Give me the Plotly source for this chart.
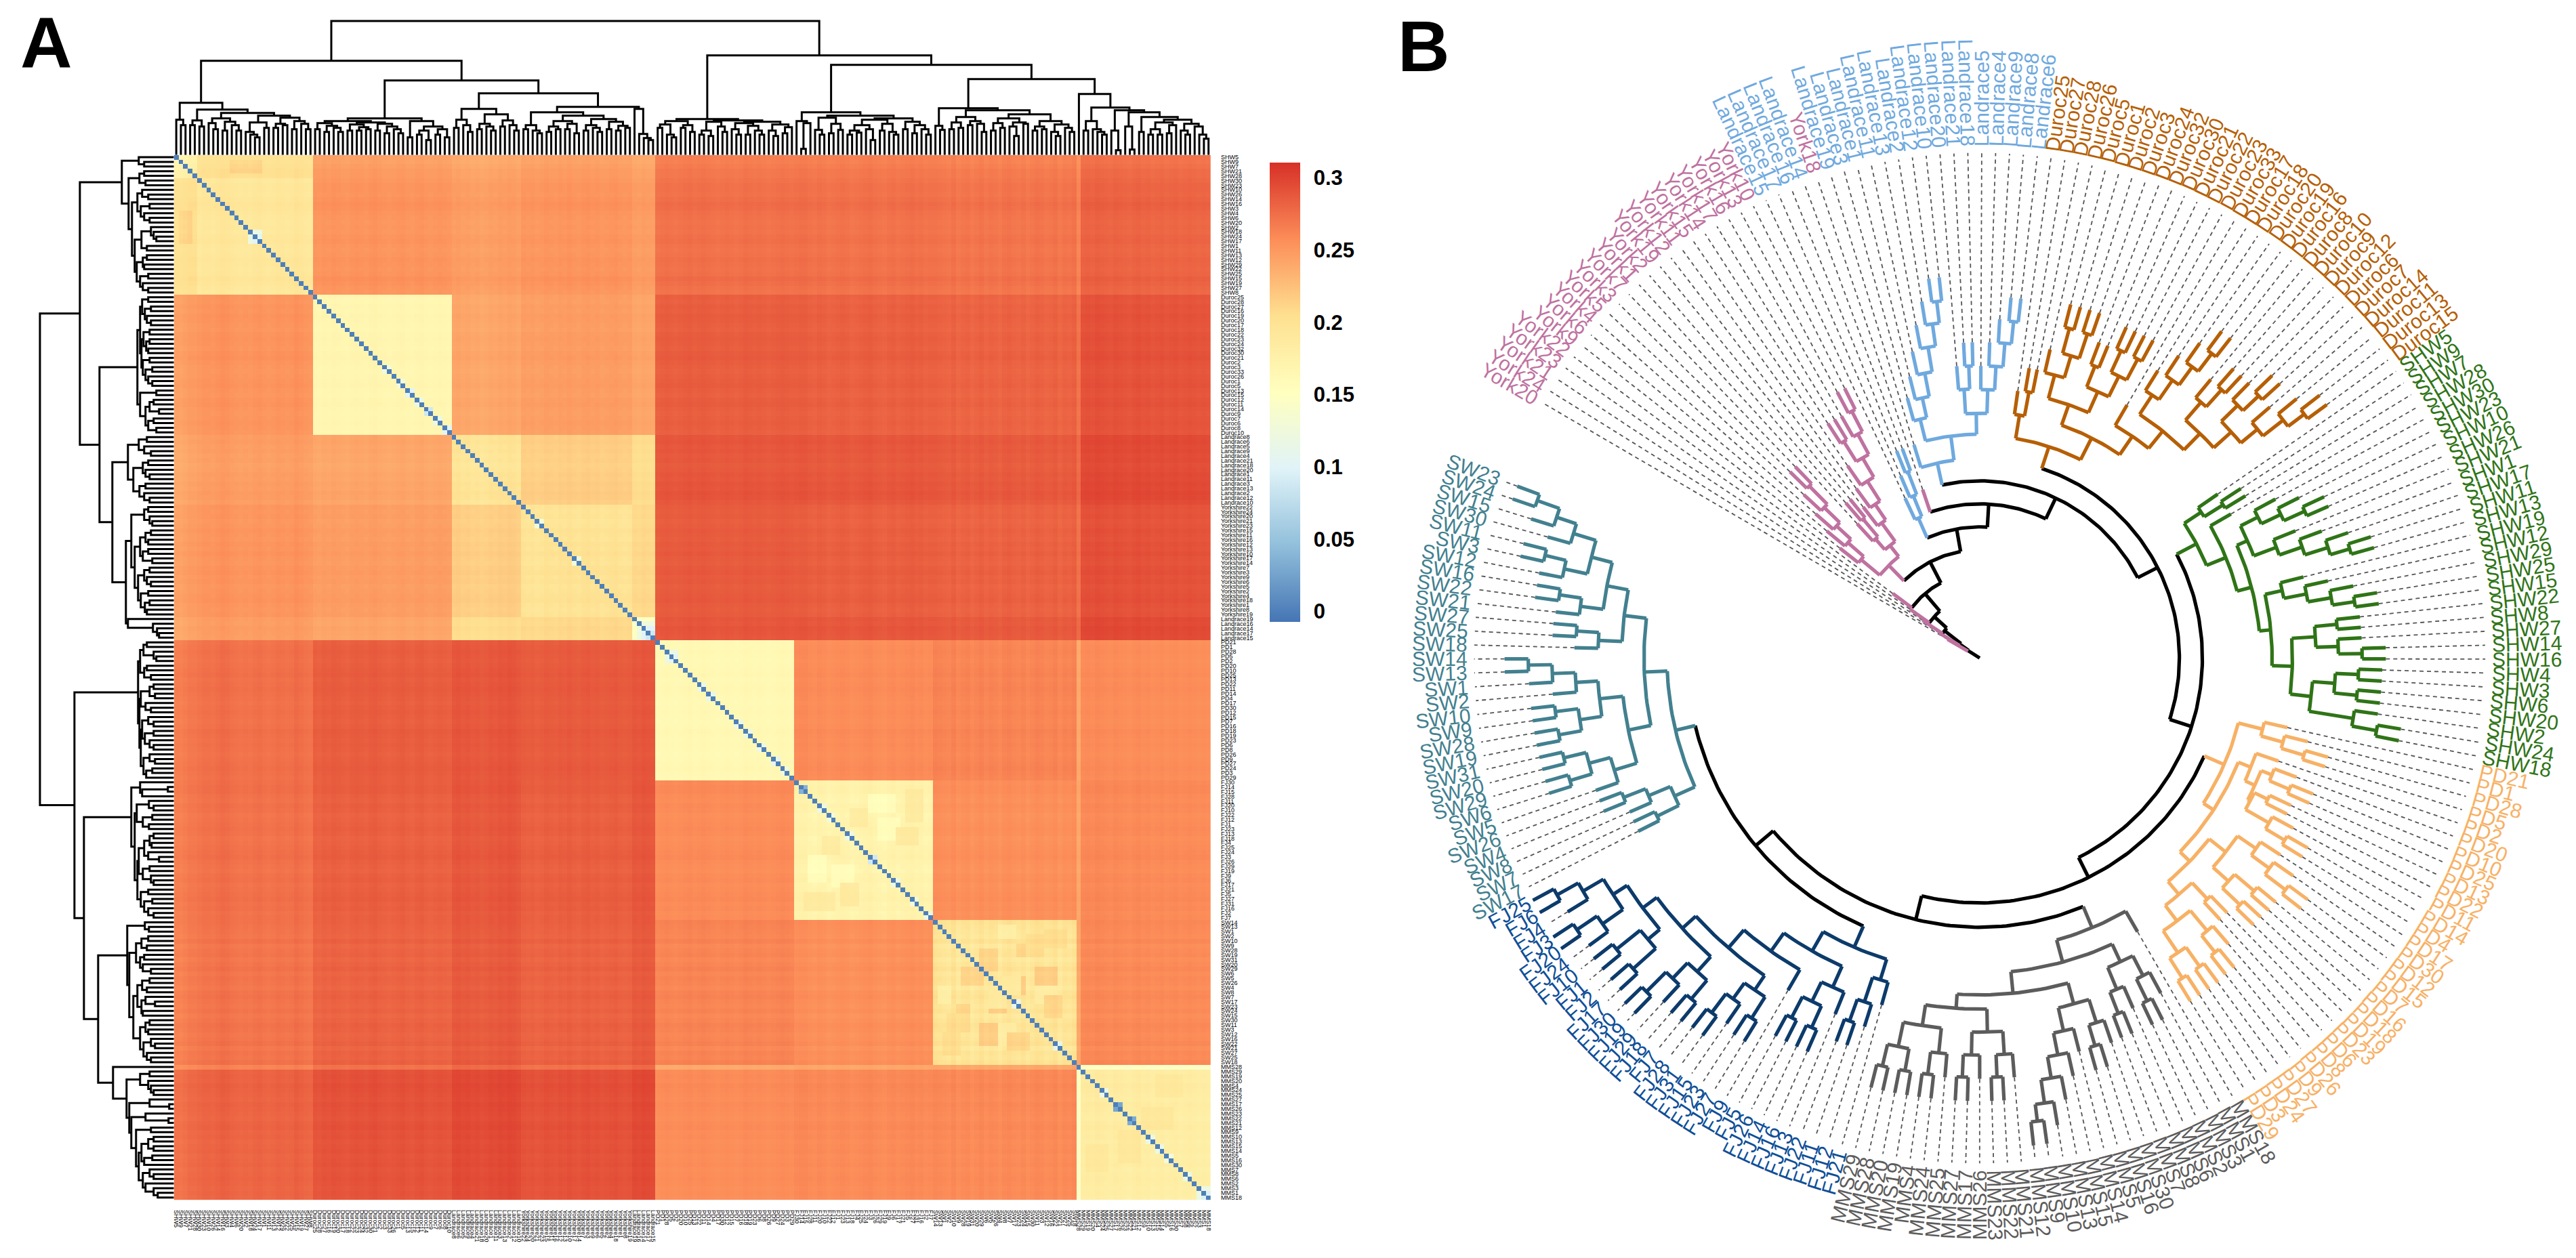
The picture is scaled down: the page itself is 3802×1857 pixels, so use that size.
import re
import numpy as np
import plotly.graph_objects as go

W, H = 3802, 1857

# ---------- Panel A: sample labels (row and column order) ----------
A_SHW = [f"SHW{i}" for i in [5,9,7,21,28,30,23,10,26,14,16,3,4,6,20,2,18,24,17,1,11,13,12,29,22,25,15,19,27,8]]
A_DUROC = [f"Duroc{i}" for i in [25,28,27,16,19,20,17,18,22,23,24,32,30,21,2,3,33,26,1,5,13,15,12,11,14,9,7,6,8,10]]
A_LANDRACE_A = [f"Landrace{i}" for i in [8,6,5,9,4,21,18,20,1,11,3,13,2,12,10]]
A_YORKSHIRE = [f"Yorkshire{i}" for i in [22,24,20,21,23,15,11,16,12,13,10,17,14,7,3,9,6,5,2,4,18,1,8,19]]
A_LANDRACE_B = [f"Landrace{i}" for i in [19,16,14,17,15]]
A_PD = [f"PD{i}" for i in [21,1,28,5,2,20,10,25,13,22,11,14,4,17,30,12,15,7,16,18,19,23,6,8,26,9,27,24,3,29]]
A_FJ = [f"FJ{i}" for i in [30,14,15,28,11,20,10,22,12,1,23,13,18,4,25,24,3,26,29,19,9,6,17,21,5,27,31,16,2,7]]
A_SW = [f"SW{i}" for i in [14,13,1,2,10,9,28,19,31,20,29,6,5,26,4,8,7,17,23,24,15,30,11,3,12,16,22,21,27,25,18]]
A_MMS = [f"MMS{i}" for i in [28,29,19,20,4,24,25,27,17,26,23,22,21,12,9,10,13,15,14,5,16,30,7,8,6,2,3,1,18]]
A_GROUPS = [A_SHW, A_DUROC, A_LANDRACE_A, A_YORKSHIRE, A_LANDRACE_B, A_PD, A_FJ, A_SW, A_MMS]

# Mean distance between sample groups
GROUP_DISTANCE = [
    [.188,.250,.245,.250,.245,.272,.272,.270,.278],
    [.250,.165,.240,.245,.240,.283,.282,.280,.288],
    [.245,.240,.195,.215,.205,.288,.288,.286,.294],
    [.250,.245,.215,.195,.208,.285,.283,.281,.289],
    [.245,.240,.205,.208,.145,.288,.288,.286,.294],
    [.272,.283,.288,.285,.288,.163,.258,.262,.256],
    [.272,.282,.288,.283,.288,.258,.172,.256,.258],
    [.270,.280,.286,.281,.286,.262,.256,.195,.258],
    [.278,.288,.294,.289,.294,.256,.258,.258,.177],
]
# Row/column stripes of each sample, in thousandths
SHW_SHADE = [-6,-7,-5,-2,-2,0,2,2,1,3,5,4,2,1,0,1,0,2,3,1,0,1,3,2,1,2,5,3,1,0]
DUROC_SHADE = [1,0,2,1,3,2,1,0,2,3,2,1,3,4,2,1,0,1,2,3,1,0,2,3,1,0,1,2,1,0]
LANDRACE_A_SHADE = [1,2,0,1,-1,0,-2,-1,1,0,2,1,3,2,0]
YORKSHIRE_SHADE = [1,0,1,-1,0,2,1,0,2,1,3,1,0,2,3,1,2,0,1,2,3,1,0,1]
LANDRACE_B_SHADE = [1,0,2,1,0]
PD_SHADE = [-1,0,1,0,-1,0,1,2,0,1,2,1,0,-1,0,1,0,-1,0,2,1,0,1,0,-1,0,1,2,1,0]
FJ_SHADE = [1,2,2,0,-1,1,0,-2,-1,0,1,0,-2,-1,0,1,2,0,-1,-2,0,1,-1,0,1,2,0,1,-1,0]
SW_SHADE = [2,1,0,-1,2,-2,0,1,-2,0,2,-1,1,0,-2,1,2,0,-1,1,-2,0,2,1,-1,0,2,-2,1,0,2]
MMS_SHADE = [-17,2,3,2,4,3,2,1,3,2,1,0,2,3,1,2,0,1,2,0,1,2,0,1,2,1,0,1,0]
A_SHADES = [SHW_SHADE, DUROC_SHADE, LANDRACE_A_SHADE, YORKSHIRE_SHADE, LANDRACE_B_SHADE, PD_SHADE, FJ_SHADE, SW_SHADE, MMS_SHADE]
GROUP_TEXTURE = [1.5, 1, 2, 2, 2, 1.5, 2, 3, 2]

# Lighter or darker patches inside a group's block: group, first row, last row, first column, last column, value
BLOCK_PATCHES = [
    (0,0,4,5,29,.205),(0,1,3,12,18,.215),
    (6,3,6,16,21,.158),(6,16,19,3,6,.155),(6,18,22,8,12,.158),(6,10,13,22,26,.188),(6,24,27,2,8,.186),(6,6,9,12,15,.186),
    (7,5,7,18,21,.212),(7,10,13,6,10,.212),(7,14,17,22,26,.183),(7,20,23,3,7,.207),(7,22,26,10,13,.216),
    (7,24,27,16,20,.212),(7,1,3,14,17,.18),(7,16,19,12,15,.216),(7,12,15,15,18,.188),(7,2,5,24,28,.207),
    (8,9,13,14,20,.19),(8,17,22,2,6,.188),
]

# Dendrogram of panel A: "(height child child)", t = leaf; heights read in pixels
A_SHW_TREE = ("(77 (52 t (44 t t)) (67 (51 (44 t t) (42 t t)) (62 (54 (47 t (38 t t)) (49 (36 t t) (44 t (36 t t)))) "
              "(58 (48 (34 t (30 t (26 t t))) (40 t t)) (55 (46 (40 t t) (44 t t)) (50 (38 t t) (46 t (38 t t))))))))")
A_DUROC_TREE = ("(54 (50 (47 (38 t t) (43 (34 t t) (40 t (34 t t)))) (48 (45 (36 t t) (41 (36 t t) (38 t t))) "
                "(46 (36 t t) (42 (32 t t) (38 t (32 t t)))))) (50 (26 t t) (42 (36 (30 t t) (22 t t)) (38 (30 t t) (26 t t)))))")
A_LANDRACE_TREE = "(68 (52 (40 t t) (44 t (34 t t))) (60 (46 (38 t t) (42 t (36 t t))) (51 (42 t t) (44 t (36 t t)))))"
A_YORK_TREE = ("(71 (63 (44 (38 t t) (36 t (32 t t))) (58 (50 (42 (34 t t) (38 t t)) (46 (38 t t) (32 t t))) "
               "(53 (44 (36 t t) (40 t (34 t t))) (49 (38 t t) (43 (36 t t) (40 t t)))))) (68 t (31 t (25 t (22 t t)))))")
A_PD_TREE = ("(53 (50 (45 (40 t t) (30 t (26 t t))) (44 (40 t t) (34 t t))) (51 (49 (36 (30 t t) (28 t t)) (42 t (34 t t))) "
             "(49 (47 (38 t (30 t t)) (43 (30 t t) (36 t (30 t t)))) (45 (36 t (28 t t)) (41 (32 t t) t)))))")
A_FJ_TREE = ("(63 (50 t (47 (9 t t) t)) (58 (55 (37 t (30 t t)) (46 (32 t t) (37 t t))) (54 (52 (44 (36 (30 t t) (33 t t)) (38 t (22 t t))) "
             "(46 (36 t t) (34 t (30 t t)))) (49 (38 t t) (44 (32 t t) (38 t (30 t t)))))))")
A_SW_TREE = ("(69 (43 t (37 t t)) (66 (56 (48 (38 t t) (40 t t)) (50 (44 t t) (46 t (34 t t)))) (60 (54 (47 (36 t t) (40 t t)) "
             "(48 (42 t (28 t t)) (46 t t))) (50 (42 (36 t t) (38 t t)) (45 (34 t (28 t t)) (40 t (34 t t)))))))")
A_MMS_TREE = ("(90 t (70 (50 (36 t t) (38 t (34 t (30 t t)))) (66 (36 t (7 t t)) (63 (42 t (8 t t)) (56 (34 t t) (52 (48 (38 (30 t t) (30 t t)) "
              "(44 (32 t t) t)) (46 (36 t (30 t t)) (42 t (30 t (24 t t)))))))))) ")
A_TREE = (f"(198 (139 {A_SHW_TREE} (110 {A_DUROC_TREE} (91 {A_LANDRACE_TREE} {A_YORK_TREE}))) "
          f"(147 {A_PD_TREE} (133 {A_FJ_TREE} (112 {A_SW_TREE} {A_MMS_TREE}))))")

COLORBAR_TICKS = [0, .05, .1, .15, .2, .25, .3]
COLORBAR_TEXT = ["0", "0.05", "0.1", "0.15", "0.2", "0.25", "0.3"]
HEAT_COLORS = ["#4575B4", "#91BFDB", "#E0F3F8", "#FFFFBF", "#FEE090", "#FC8D59", "#D73027"]

# ---------- Panel B: leaf names in clockwise order ----------
B_NAMES = {
    "York": [f"York{i}" for i in [20,24,21,23,22,9,6,4,5,3,7,1,2,19,12,11,15,14,17,16,13,10,18]],
    "Landrace": [f"Landrace{i}" for i in [15,17,16,14,19,3,1,11,13,2,12,10,20,21,18,5,4,9,8,6]],
    "Duroc": [f"Duroc{i}" for i in [25,27,28,26,5,1,2,3,24,32,30,21,22,23,33,17,18,20,19,16,8,10,9,12,6,7,14,11,13,15]],
    "SHW": [f"SHW{i}" for i in [5,9,7,28,30,23,10,26,21,1,17,11,13,19,12,29,25,15,22,8,27,14,16,4,3,6,20,2,24,18]],
    "PD": [f"PD{i}" for i in [21,1,28,5,2,20,10,25,13,22,11,14,4,17,30,12,15,7,16,18,19,23,6,8,26,9,27,24,3,29]],
    "MMS": [f"MMS{i}" for i in [18,1,3,2,6,8,7,30,16,5,14,15,13,10,9,12,21,22,23,26,17,27,25,24,4,19,20,28,29]],
    "FJ": [f"FJ{i}" for i in [21,12,11,22,13,16,14,26,5,9,27,23,15,31,28,7,18,29,19,30,17,2,1,10,24,20,3,4,6,25]],
    "SW": [f"SW{i}" for i in [17,7,8,4,26,5,6,29,20,31,19,28,9,10,2,1,13,14,18,25,27,21,22,16,12,3,11,30,15,24,23]],
}
TREE_COLORS = {"York":"#BF72A0","Landrace":"#6FA9DE","Duroc":"#B65F05","SHW":"#2F7417","PD":"#F7B165","MMS":"#5C5C5C","FJ":"#0C3B6B","SW":"#42808F"}
TEXT_COLORS = {**TREE_COLORS, "FJ":"#0E4F98"}

# Circular tree: "(radius child child)", t = leaf; radii read in pixels from the centre
B_YORK = ("(192 (228 t (259 t (288 t (320 t (358 t t))))) (213 (234 t (268 t t)) (247 t (275 t (310 t (343 (378 t t) (377 t (411 t t))))))))")
B_LAND_A = "(226 t (259 t (295 t t)))"
B_LAND_B = ("(295 t (331 (364 t (394 t (429 t (466 t (499 t (531 t t)))))) (362 (398 t (432 t t)) (397 t (432 t (467 t (500 t t)))))))")
B_DUROC = ("(329 (364 t (400 t t)) (365 (397 (433 t (467 (505 t t) (505 t t))) (431 (464 t t) (465 (500 t t) (500 t t)))) "
           "(398 t (431 (465 t (500 t (533 t (566 t t)))) (465 (500 t (534 t t)) (500 (534 t (566 t t)) (532 t (570 t (600 t t)))))))))")
B_SHW = ("(362 (392 t (425 t t)) (393 t (415 (432 (461 t (493 t (527 t t))) (468 t (504 t (540 t (570 t t))))) "
         "(432 (458 t (492 t (527 t (560 t t)))) (462 (497 (530 t t) (530 t (565 t t))) (493 (526 (560 t t) (560 t t)) (559 t (596 t t))))))))")
B_PD = ("(394 (431 t (465 t (500 t t))) (412 (432 t (448 (465 t (497 t t)) (452 (474 t t) (492 t (525 t t))))) "
        "(432 (463 (496 t (529 t (567 t t))) (494 (532 t t) (530 t t))) (457 (490 t t) (486 (525 t (557 t t)) (525 (560 t t) (560 t t)))))))")
B_MMS = ("(432 t (466 (495 (528 t (564 t t)) (530 t (564 t t))) (498 (530 (566 t (598 t t)) (565 t (598 t (630 t (665 t (690 t t)))))) "
         "(519 (553 (587 t (620 t t)) (587 t (620 t t))) (550 (587 t (620 t t)) (587 (620 t t) (620 t t)))))))")
B_FJ = ("(466 (498 t (536 t (570 t t))) (499 (533 t (565 (600 t t) (600 t t))) (532 t (567 (593 (630 t t) (622 t (657 t t))) "
        "(594 (624 (660 t t) (656 t (697 t t))) (620 (643 (688 t t) (688 t t)) (645 (682 t (718 t t)) (680 t (716 t t)))))))))")
B_SW = ("(462 (495 (531 t t) (530 t (565 t t))) (496 (530 (565 t (598 (632 t t) (632 t t))) (565 (598 (632 t t) (632 t t)) (598 t (632 t (667 t t))))) "
        "(529 (564 t (597 t t)) (561 (595 t (628 t t)) (593 (628 t (660 t t)) (628 t (659 t (694 t t))))))))")
B_TREE = (f"(20 <York>t (35 <York>t (66 <York>t (91 <York>t (125 <York>t (160 <York>{B_YORK} (194 <Landrace>{B_LAND_A} "
          f"(228 <York>t (262 <Landrace>{B_LAND_B} (295 <Duroc>{B_DUROC} (329 <SHW>{B_SHW} (362 <PD>{B_PD} "
          f"(398 <MMS>{B_MMS} (432 <FJ>{B_FJ} <SW>{B_SW}" + ")" * 14)
B_FIRST_ANGLE, B_LAST_ANGLE = -59.7, 290.4
B_TIP_LENGTH, B_DASH_END, B_LABEL_R, B_LABEL_SIZE = 35, 747, 757, 30


def parse_tree(src):
    tokens = re.findall(r"<\w+>|\(|\)|t|[\d.]+", src)
    pos = 0

    def node(group):
        nonlocal pos
        if tokens[pos].startswith("<"):
            group = tokens[pos][1:-1]
            pos += 1
        tok = tokens[pos]
        pos += 1
        if tok == "t":
            return {"leaf": True, "group": group}
        value = float(tokens[pos])
        pos += 1
        kids = []
        while tokens[pos] != ")":
            kids.append(node(group))
        pos += 1
        return {"leaf": False, "group": group, "r": value, "kids": kids}
    return node(None)


# ---------- Heatmap values ----------
sizes = [len(g) for g in A_GROUPS]
starts = np.cumsum([0] + sizes)
group_of = np.repeat(np.arange(len(sizes)), sizes)
shade = np.concatenate(A_SHADES) / 1000
base = np.array(GROUP_DISTANCE)[np.ix_(group_of, group_of)]
tex = np.array(GROUP_TEXTURE)[group_of]
same = group_of[:, None] == group_of[None, :]
z = base + (shade[:, None] + shade[None, :]) * np.where(same, tex[:, None], 1)
for g, r0, r1, c0, c1, v in BLOCK_PATCHES:
    s = starts[g]
    z[s + r0:s + r1 + 1, s + c0:s + c1 + 1] = v + (shade[s + r0:s + r1 + 1, None] + shade[None, s + c0:s + c1 + 1])
    z[s + c0:s + c1 + 1, s + r0:s + r1 + 1] = z[s + r0:s + r1 + 1, s + c0:s + c1 + 1].T

a_root = parse_tree(A_TREE)
leaf_count = 0


def layout_a(n):
    global leaf_count
    if n["leaf"]:
        n["pos"], n["h"] = leaf_count, 0.0
        n["span"] = [leaf_count]
        leaf_count += 1
        return
    for k in n["kids"]:
        layout_a(k)
    n["pos"] = sum(k["pos"] for k in n["kids"]) / len(n["kids"])
    n["h"] = n["r"]
    n["span"] = [i for k in n["kids"] for i in k["span"]]
    if n["h"] <= 32:
        for a in n["kids"][0]["span"]:
            for b in n["kids"][-1]["span"]:
                z[a, b] = z[b, a] = min(z[a, b], 0.004 * n["h"])


layout_a(a_root)
np.fill_diagonal(z, 0)

dx, dy = [], []


def collect_a(n):
    if n["leaf"]:
        return
    for k in n["kids"]:
        collect_a(k)
    a, b = n["kids"][0], n["kids"][-1]
    dx.extend([a["pos"], a["pos"], b["pos"], b["pos"], None])
    dy.extend([a["h"], n["h"], n["h"], b["h"], None])


collect_a(a_root)

labels_a = [s for g in A_GROUPS for s in g]
N = len(labels_a)

fig = go.Figure()
fig.add_trace(go.Heatmap(
    z=z, x=list(range(N)), y=list(range(N)), zmin=-0.007, zmax=0.3108,
    colorscale=[[i / 6, c] for i, c in enumerate(HEAT_COLORS)], hoverinfo="skip",
    colorbar=dict(x=1874 / W, xanchor="left", y=(H - 918) / H, yanchor="bottom", len=679 / H, lenmode="fraction",
                  thickness=45, thicknessmode="pixels", outlinewidth=0, xpad=0, ypad=0,
                  tickmode="array", tickvals=COLORBAR_TICKS, ticktext=COLORBAR_TEXT,
                  ticks="outside", ticklen=14, tickcolor="rgba(0,0,0,0)",
                  tickfont=dict(family="Liberation Sans", size=31, color="black", weight="bold")),
    xaxis="x", yaxis="y"))
fig.add_trace(go.Scatter(x=dx, y=dy, mode="lines", line=dict(color="black", width=3), hoverinfo="skip",
                         showlegend=False, xaxis="x2", yaxis="y2"))
fig.add_trace(go.Scatter(x=dy, y=dx, mode="lines", line=dict(color="black", width=3), hoverinfo="skip",
                         showlegend=False, xaxis="x3", yaxis="y3"))

# ---------- Circular tree ----------
b_root = parse_tree(B_TREE)
queues = {k: list(v) for k, v in B_NAMES.items()}
b_leaves = []


def count_leaves(n):
    return 1 if n["leaf"] else sum(count_leaves(k) for k in n["kids"])


step = (B_LAST_ANGLE - B_FIRST_ANGLE) / (count_leaves(b_root) - 1)


def layout_b(n, parent_r):
    if n["leaf"]:
        n["theta"] = B_FIRST_ANGLE + step * len(b_leaves)
        n["r"] = parent_r + B_TIP_LENGTH
        n["name"] = queues[n["group"]].pop(0)
        b_leaves.append(n)
        return
    for k in n["kids"]:
        layout_b(k, n["r"])
    n["theta"] = sum(k["theta"] for k in n["kids"]) / len(n["kids"])


layout_b(b_root, 0)
segs = {}


def add_line(color, thetas, radii):
    xs, ys = segs.setdefault(color, ([], []))
    t = np.radians(thetas)
    xs.extend((np.asarray(radii) * np.sin(t)).tolist() + [None])
    ys.extend((np.asarray(radii) * np.cos(t)).tolist() + [None])


def collect_b(n, parent_r):
    color = TREE_COLORS.get(n["group"], "black")
    add_line(color, [n["theta"], n["theta"]], [parent_r, n["r"]])
    if n["leaf"]:
        return
    a, b = n["kids"][0]["theta"], n["kids"][-1]["theta"]
    th = np.linspace(a, b, max(2, int(abs(b - a)) + 2))
    add_line(color, th, np.full(len(th), n["r"]))
    for k in n["kids"]:
        collect_b(k, n["r"])


collect_b(b_root, 0)

dash_x, dash_y = [], []
for lf in b_leaves:
    t = np.radians(lf["theta"])
    dash_x += [lf["r"] * np.sin(t), B_DASH_END * np.sin(t), None]
    dash_y += [lf["r"] * np.cos(t), B_DASH_END * np.cos(t), None]
fig.add_trace(go.Scatter(x=dash_x, y=dash_y, mode="lines", line=dict(color="#555555", width=1.8, dash="6px,5px"),
                         hoverinfo="skip", showlegend=False, xaxis="x4", yaxis="y4"))
for color, (xs, ys) in segs.items():
    fig.add_trace(go.Scatter(x=xs, y=ys, mode="lines", line=dict(color=color, width=5.2),
                             hoverinfo="skip", showlegend=False, xaxis="x4", yaxis="y4"))

CHAR_W = {"Y":.667,"o":.556,"r":.333,"k":.5,"L":.556,"a":.556,"n":.556,"d":.556,"c":.5,"e":.556,"D":.722,"u":.556,
          "S":.667,"H":.722,"W":.944,"P":.667,"M":.833,"F":.611,"J":.5}
ann = []
for lf in b_leaves:
    width = sum(CHAR_W.get(c, .556) for c in lf["name"]) * B_LABEL_SIZE
    th = lf["theta"] % 360
    rc = B_LABEL_R + width / 2
    t = np.radians(th)
    ann.append(dict(x=rc * np.sin(t), y=rc * np.cos(t), xref="x4", yref="y4", text=lf["name"], showarrow=False,
                    textangle=(th - 90) if th < 180 else (th - 270), xanchor="center", yanchor="middle",
                    font=dict(family="Liberation Sans", size=B_LABEL_SIZE, color=TEXT_COLORS[lf["group"]])))
ann.append(dict(x=67 / W, y=1 - 62 / H, xref="paper", yref="paper", text="A", showarrow=False, xanchor="center", yanchor="middle",
                font=dict(family="Liberation Sans", size=106, color="black", weight="bold")))
ann.append(dict(x=2102 / W, y=1 - 67 / H, xref="paper", yref="paper", text="B", showarrow=False, xanchor="center", yanchor="middle",
                font=dict(family="Liberation Sans", size=106, color="black", weight="bold")))

CX, CY = 2923, 972
hidden = dict(visible=False, showgrid=False, zeroline=False)
heat_x = [255 / W, 1787 / W]
heat_y = [(H - 1773) / H, (H - 228) / H]
tickfont = dict(family="Liberation Sans", size=9, color="black")
fig.update_layout(
    width=W, height=H, margin=dict(l=0, r=0, t=0, b=0), paper_bgcolor="white", plot_bgcolor="white",
    showlegend=False, annotations=ann,
    xaxis=dict(domain=heat_x, range=[-.5, N - .5], tickmode="array", tickvals=list(range(N)), ticktext=labels_a, tickangle=90,
               tickfont=tickfont, ticks="outside", ticklen=12, tickcolor="rgba(0,0,0,0)", showgrid=False, zeroline=False,
               showline=False, anchor="y"),
    yaxis=dict(domain=heat_y, range=[N - .5, -.5], side="right", tickmode="array", tickvals=list(range(N)), ticktext=labels_a,
               tickfont=tickfont, ticks="outside", ticklen=12, tickcolor="rgba(0,0,0,0)", showgrid=False, zeroline=False,
               showline=False, anchor="x"),
    xaxis2=dict(domain=heat_x, range=[-.5, N - .5], anchor="y2", **hidden),
    yaxis2=dict(domain=[(H - 228) / H, (H - 28) / H], range=[0, 200], anchor="x2", **hidden),
    xaxis3=dict(domain=[55 / W, 255 / W], range=[200, 0], anchor="y3", **hidden),
    yaxis3=dict(domain=heat_y, range=[N - .5, -.5], anchor="x3", **hidden),
    xaxis4=dict(domain=[2050 / W, 1], range=[2050 - CX, W - CX], anchor="y4", **hidden),
    yaxis4=dict(domain=[0, 1], range=[CY - H, CY], anchor="x4", **hidden),
)
fig.write_html("out.html", config={"displayModeBar": False},
               post_script="document.body.style.margin='0';document.documentElement.style.overflow='hidden';")
